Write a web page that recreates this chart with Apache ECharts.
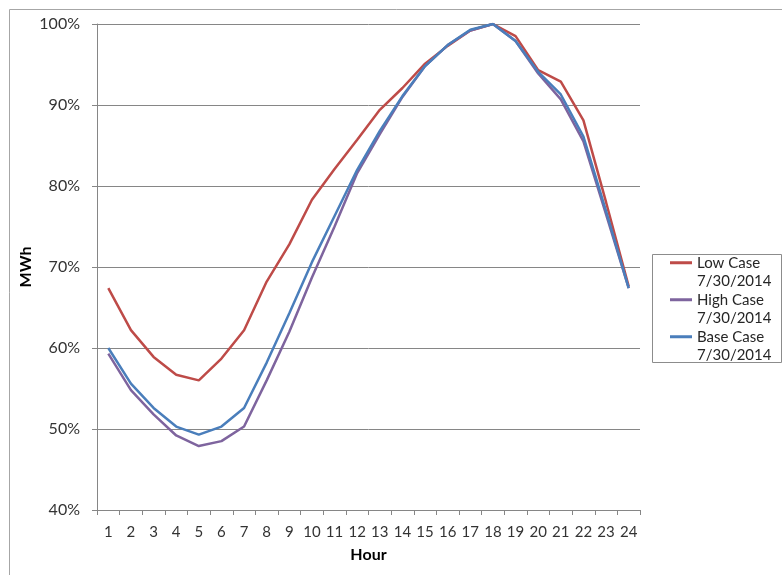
<!DOCTYPE html>
<html>
<head>
<meta charset="utf-8">
<script src="https://cdn.jsdelivr.net/npm/echarts@6/dist/echarts.min.js"></script>
<style>html,body{margin:0;padding:0;background:#fff;}#c{width:782px;height:575px;}</style>
</head>
<body>
<div id="c"></div>
<script>
var hours = ['1','2','3','4','5','6','7','8','9','10','11','12','13','14','15','16','17','18','19','20','21','22','23','24'];
var yTicks = [40, 50, 60, 70, 80, 90, 100];
var seriesNames = ['Low Case 7/30/2014', 'High Case 7/30/2014', 'Base Case 7/30/2014'];
var lowCase  = [67.4, 62.2, 58.9, 56.7, 56.0, 58.7, 62.2, 68.2, 72.8, 78.3, 82.1, 85.7, 89.4, 92.1, 95.1, 97.3, 99.2, 100, 98.5, 94.3, 92.9, 88.1, 78.0, 67.6];
var highCase = [59.3, 54.8, 51.8, 49.2, 47.9, 48.5, 50.3, 56.0, 62.0, 68.7, 75.0, 81.6, 86.4, 91.0, 94.8, 97.4, 99.2, 100, 97.9, 93.9, 90.7, 85.5, 76.5, 67.4];
var baseCase = [60.0, 55.6, 52.6, 50.3, 49.3, 50.3, 52.6, 58.2, 64.3, 70.6, 76.3, 82.0, 86.8, 91.1, 94.8, 97.4, 99.3, 100, 97.9, 94.1, 91.3, 86.1, 76.9, 67.4];

var FONT = 'Lato';
var chart = echarts.init(document.getElementById('c'), null, {renderer: 'canvas'});
function mkSeries(name, data, color) {
  return {
    name: name, type: 'line', data: data, symbol: 'none', smooth: false,
    lineStyle: {color: color, width: 2.5}, itemStyle: {color: color}
  };
}
chart.setOption({
  animation: false,
  backgroundColor: '#ffffff',
  textStyle: {fontFamily: FONT},
  graphic: [
    {type: 'rect', shape: {x: 9.5, y: 9.5, width: 900, height: 700}, style: {fill: 'none', stroke: '#a6a6a6', lineWidth: 1}, z: 0, silent: true},
    {type: 'rect', shape: {x: 652.5, y: 254.5, width: 129, height: 108}, style: {fill: '#ffffff', stroke: '#8c8c8c', lineWidth: 1}, z: 1, silent: true}
  ],
  grid: {left: 97, right: 142, top: 24, bottom: 65, containLabel: false},
  legend: {
    orient: 'vertical', left: 670, top: 235, padding: 0,
    itemWidth: 22, itemHeight: 3, itemGap: -18.5,
    icon: 'rect',
    formatter: function (n) { var i = n.indexOf(' 7/'); return '\n' + n.slice(0, i) + '\n' + n.slice(i + 1); },
    textStyle: {fontFamily: FONT, fontSize: 15, color: '#262626', lineHeight: 18.5},
    data: seriesNames
  },
  xAxis: {
    type: 'category', data: hours, boundaryGap: true,
    name: 'Hour', nameLocation: 'middle', nameGap: 37,
    nameTextStyle: {fontFamily: FONT, fontWeight: 'bold', fontSize: 16, color: '#000'},
    axisLine: {show: true, lineStyle: {color: '#868686', width: 1}},
    axisTick: {show: true, alignWithLabel: false, interval: 0, length: 5, lineStyle: {color: '#868686'}},
    axisLabel: {interval: 0, margin: 15, fontFamily: FONT, fontSize: 15, color: '#333'},
    splitLine: {show: false}
  },
  yAxis: {
    type: 'value', min: yTicks[0], max: yTicks[yTicks.length - 1], interval: 10,
    name: 'MWh', nameLocation: 'middle', nameGap: 63, nameRotate: 90, nameMoveOverlap: false,
    nameTextStyle: {fontFamily: FONT, fontWeight: 'bold', fontSize: 16, color: '#000'},
    axisLine: {show: true, lineStyle: {color: '#868686', width: 1}},
    axisTick: {show: true, length: 5, inside: false, lineStyle: {color: '#868686'}},
    axisLabel: {margin: 17, fontFamily: FONT, fontSize: 16, color: '#333', formatter: '{value}%'},
    splitLine: {show: true, lineStyle: {color: '#868686', width: 1}}
  },
  series: [
    mkSeries(seriesNames[0], lowCase, '#BE4B48'),
    mkSeries(seriesNames[1], highCase, '#7E649E'),
    mkSeries(seriesNames[2], baseCase, '#4A7EBB')
  ]
});
</script>
</body>
</html>
